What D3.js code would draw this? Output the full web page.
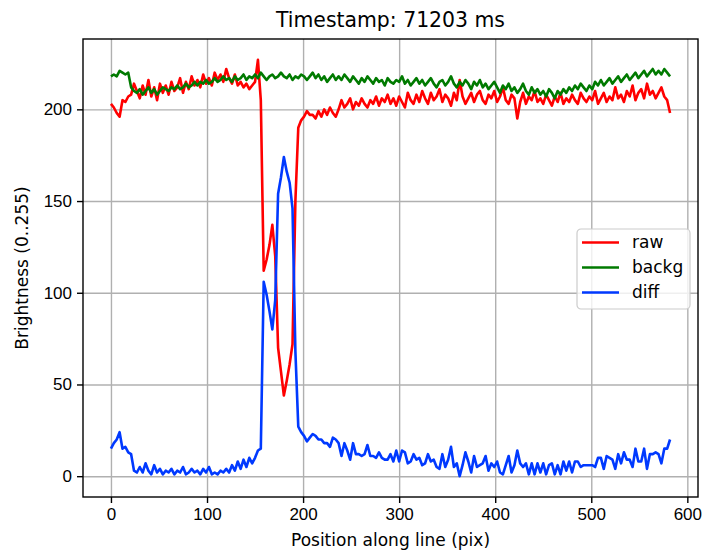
<!DOCTYPE html>
<meta charset="utf-8">
<style>

body { margin: 0; background: #fff; }
svg { font-family: "DejaVu Sans", sans-serif; }

.grid line { stroke: #b0b0b0; stroke-width: 1.4px; }
.grid path { display: none; }

.axis path, .axis line { stroke: #000; stroke-width: 1.4px; }
.axis text { font-size: 17px; fill: #000; }

.series { fill: none; stroke-width: 2.6px; stroke-linejoin: round; }

</style>
<svg width="705" height="557"></svg>
<script src="https://d3js.org/d3.v7.min.js"></script>
<script>

// one sample every 3 pixels along the line
var step = 3;

var raw = [
  203, 201, 198, 196, 205, 204, 207, 208, 214, 210,
  206, 213, 208, 216, 207, 212, 205, 214, 209, 213,
  208, 215, 210, 212, 217, 209, 215, 211, 218, 213,
  216, 212, 219, 214, 217, 213, 220, 216, 219, 215,
  222, 217, 214, 219, 213, 215, 212, 214, 211, 213,
  215, 227, 205, 112, 118, 126, 137, 120, 70, 57,
  44, 52, 61, 72, 150, 190, 194, 196, 199, 197,
  197, 195, 199, 196, 200, 197, 201, 198, 196, 200,
  205, 201, 203, 206, 200, 204, 202, 206, 203, 201,
  205, 203, 207, 202, 206, 204, 208, 203, 206, 202,
  207, 204, 201, 209, 205, 203, 208, 204, 210, 206,
  203, 209, 205, 207, 211, 204, 208, 206, 202, 209,
  205, 216, 207, 203, 206, 209, 204, 208, 210, 205,
  203, 208, 206, 210, 204, 207, 212, 205, 203, 208,
  206, 195, 204, 209, 203, 207, 205, 210, 204, 206,
  203, 208, 205, 202, 207, 204, 209, 203, 206, 204,
  208, 205, 203, 209, 206, 204, 207, 205, 210, 203,
  206, 209, 204, 207, 205, 212, 206, 208, 204, 210,
  207, 213, 205, 209, 211, 206, 214, 208, 210, 206,
  209, 212, 207, 205, 198
];

var backg = [
  218, 219, 218, 221, 220, 219, 220, 212, 210, 209,
  211, 208, 210, 212, 209, 211, 208, 210, 212, 211,
  210, 212, 211, 213, 211, 212, 214, 212, 213, 215,
  213, 215, 214, 216, 214, 215, 217, 215, 216, 218,
  216, 217, 215, 218, 216, 217, 219, 216, 218, 217,
  219, 217, 220, 218, 216, 218, 219, 217, 218, 220,
  218, 217, 219, 216, 218, 217, 219, 218, 216, 218,
  220, 217, 219, 216, 218, 215, 217, 219, 216, 218,
  216, 219, 217, 215, 218, 216, 214, 217, 215, 218,
  216, 214, 217, 215, 216, 213, 217, 215, 214, 216,
  215, 218, 214, 216, 213, 215, 217, 214, 216, 213,
  215, 217, 214, 212, 215, 216, 213, 215, 218, 214,
  212, 215, 213, 216, 214, 211, 215, 213, 216, 212,
  214, 211, 213, 215, 212, 209, 213, 211, 214, 210,
  212, 209, 211, 214, 210, 208, 212, 209, 211, 208,
  210, 207, 211, 209, 206, 210, 208, 211, 209, 212,
  210, 213, 211, 214, 212, 210, 213, 211, 215, 213,
  216, 213, 215, 217, 214, 216, 218, 215, 217, 219,
  216, 218, 220, 217, 219, 221, 218, 220, 222, 219,
  221, 219, 222, 220, 218
];

var diff = [
  15, 18, 20, 24, 15, 16, 13, 12, 3, 2,
  5, 2, 7, 3, 1, 6, 2, 4, 1, 3,
  2, 4, 1, 3, 2, 5, 1, 2, 4, 2,
  3, 1, 4, 2, 5, 1, 2, 1, 3, 2,
  4, 2, 6, 3, 8, 4, 9, 5, 10, 7,
  10, 14, 15, 106, 99, 90, 80, 96, 154, 163,
  174, 166, 160, 146, 68, 27, 24, 22, 19, 21,
  23, 22, 20, 20, 18, 18, 16, 21, 20, 18,
  11, 18, 14, 9, 18, 12, 12, 11, 12, 17,
  11, 11, 10, 13, 10, 9, 9, 12, 8, 14,
  8, 14, 13, 7, 8, 12, 9, 10, 6, 7,
  12, 8, 9, 5, 4, 12, 5, 9, 16, 5,
  7, 0, 6, 13, 8, 2, 11, 5, 6, 7,
  11, 3, 7, 5, 8, 2, 1, 6, 11, 2,
  6, 14, 7, 5, 7, 1, 7, 1, 7, 2,
  7, 1, 6, 7, 1, 6, 1, 8, 3, 8,
  2, 8, 8, 5, 6, 6, 6, 6, 5, 10,
  10, 4, 11, 10, 9, 4, 12, 7, 13, 9,
  9, 5, 15, 8, 8, 15, 4, 12, 12, 13,
  12, 7, 15, 15, 20
];

var seriesNames = ["raw", "backg", "diff"];
var seriesColors = ["#ff0000", "#007a00", "#0039ff"];
var xTicks = [0, 100, 200, 300, 400, 500, 600];
var yTicks = [0, 50, 100, 150, 200];

var svg = d3.select("svg"),
    margin = {left: 83, right: 7, top: 39, bottom: 60},
    width = +svg.attr("width") - margin.left - margin.right,
    height = +svg.attr("height") - margin.top - margin.bottom;

var allSeries = [raw, backg, diff];
var n = raw.length;
var xmax = (n - 1) * step;
var ymin = d3.min(allSeries, s => d3.min(s)),
    ymax = d3.max(allSeries, s => d3.max(s));
var xpad = xmax * 0.05, ypad = (ymax - ymin) * 0.05;

var x = d3.scaleLinear().domain([-xpad, xmax + xpad]).range([0, width]);
var y = d3.scaleLinear().domain([ymin - ypad, ymax + ypad]).range([height, 0]);

var g = svg.append("g").attr("transform", "translate(" + margin.left + "," + margin.top + ")");

g.append("g").attr("class", "grid")
    .attr("transform", "translate(0," + height + ")")
    .call(d3.axisBottom(x).tickValues(xTicks).tickSize(-height).tickFormat(""));
g.append("g").attr("class", "grid")
    .call(d3.axisLeft(y).tickValues(yTicks).tickSize(-width).tickFormat(""));

var line = d3.line()
    .x((d, i) => x(i * step))
    .y(d => y(d));

g.selectAll(".series")
    .data(allSeries)
  .enter().append("path")
    .attr("class", "series")
    .attr("stroke", (d, i) => seriesColors[i])
    .attr("d", line);

var xAxis = g.append("g").attr("class", "axis")
    .attr("transform", "translate(0," + height + ")")
    .call(d3.axisBottom(x).tickValues(xTicks).tickSize(6).tickPadding(5));
var yAxis = g.append("g").attr("class", "axis")
    .call(d3.axisLeft(y).tickValues(yTicks).tickSize(6).tickPadding(5));
xAxis.select(".domain").remove();
yAxis.select(".domain").remove();

g.append("rect")
    .attr("width", width).attr("height", height)
    .attr("fill", "none").attr("stroke", "#000").attr("stroke-width", 1.4);

// legend
var leg = g.append("g").attr("transform", "translate(" + (577 - margin.left) + "," + (229 - margin.top) + ")");
leg.append("rect")
    .attr("width", 113).attr("height", 80).attr("rx", 4)
    .attr("fill", "#fff").attr("fill-opacity", 0.8)
    .attr("stroke", "#cccccc").attr("stroke-width", 1.2);
var item = leg.selectAll(".item")
    .data(seriesNames)
  .enter().append("g")
    .attr("transform", (d, i) => "translate(0," + (13.5 + i * 25) + ")");
item.append("line")
    .attr("x1", 5).attr("x2", 42)
    .attr("stroke", (d, i) => seriesColors[i]).attr("stroke-width", 2.6);
item.append("text")
    .attr("x", 55).attr("dy", "0.35em")
    .style("font-size", "17px")
    .text(d => d);

svg.append("text")
    .attr("x", margin.left + width / 2).attr("y", 27)
    .attr("text-anchor", "middle").style("font-size", "20.4px")
    .text("Timestamp: 71203 ms");

svg.append("text")
    .attr("x", margin.left + width / 2).attr("y", 546)
    .attr("text-anchor", "middle").style("font-size", "17px")
    .text("Position along line (pix)");

svg.append("text")
    .attr("transform", "translate(28," + (margin.top + height / 2) + ") rotate(-90)")
    .attr("text-anchor", "middle").style("font-size", "17px")
    .text("Brightness (0..255)");

</script>
